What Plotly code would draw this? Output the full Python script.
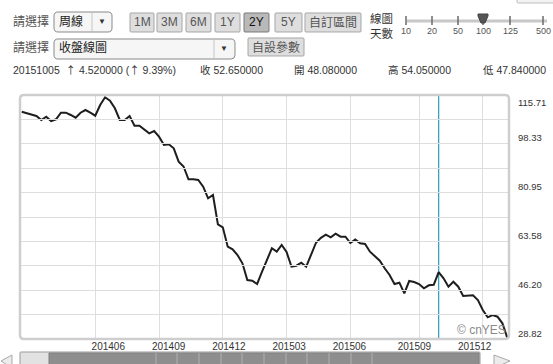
import plotly.graph_objects as go
import pandas as pd

# ---------------- data ----------------
first_week = "2014-02-17"
closes = [
    109.76, 109.19, 108.84, 108.23, 106.81, 107.98, 106.45, 107.05, 109.41, 109.41,
    108.59, 107.62, 109.41, 110.37, 109.41, 108.34, 112.15, 114.89, 113.68, 110.97,
    106.81, 106.81, 108.23, 104.78, 104.78, 103.49, 102.07, 102.89, 100.86, 97.90,
    98.15, 96.73, 91.96, 90.25, 85.69, 85.69, 85.44, 83.05, 78.92, 80.10,
    69.66, 68.60, 61.69, 60.76, 58.73, 55.78, 49.83, 49.58, 48.41, 52.79,
    56.95, 61.12, 59.91, 62.29, 59.80, 54.57, 54.92, 55.99, 54.57, 58.73,
    63.11, 64.86, 66.00, 65.04, 66.35, 65.25, 65.25, 63.01, 64.22, 62.90,
    62.65, 59.91, 58.38, 56.70, 54.00, 51.61, 48.41, 48.87, 45.09, 49.47,
    49.12, 48.41, 46.87, 47.94, 48.13, 52.65, 50.44, 47.44, 49.22, 47.44,
    44.13, 44.24, 44.38, 42.71, 39.15, 36.55, 37.37, 36.76, 34.41, 29.20,
]
dates = pd.date_range(first_week, periods=len(closes), freq="7D")

y_min, y_max = 28.82, 115.71
y_labels = ["28.82", "46.20", "63.58", "80.95", "98.33", "115.71"]
x_labels = ["201406", "201409", "201412", "201503", "201506", "201509", "201512"]
cursor_date = "2015-10-05"
q_date, q_close, q_open, q_high, q_low = "20151005", 52.65, 48.08, 54.05, 47.84
q_change, q_pct = 4.52, 9.39

period_buttons = ["1M", "3M", "6M", "1Y", "2Y", "5Y", "自訂區間"]
selected_period = "2Y"
slider_labels = ["10", "20", "50", "100", "125", "500"]
selected_slider = "100"

# ---------------- geometry helpers ----------------
W, H = 553, 364
L, R, T, B = 20, 509, 95, 339


def X(px):
    return (px - L) / (R - L)


def Y(py):
    return (B - py) / (B - T)


def P(px, py):
    return f"{X(px):.5f},{Y(py):.5f}"


def rrect(x0, y0, x1, y1, r):
    return ("M" + P(x0 + r, y0) + " L" + P(x1 - r, y0) + " Q" + P(x1, y0) + " " + P(x1, y0 + r)
            + " L" + P(x1, y1 - r) + " Q" + P(x1, y1) + " " + P(x1 - r, y1)
            + " L" + P(x0 + r, y1) + " Q" + P(x0, y1) + " " + P(x0, y1 - r)
            + " L" + P(x0, y0 + r) + " Q" + P(x0, y0) + " " + P(x0 + r, y0) + " Z")


FONT = "Liberation Sans, Noto Sans CJK TC, Arial, sans-serif"
CJK = "Noto Sans CJK TC"
UP = f"<span style=\"font-family:'{CJK}'\">↑</span>"

grid_dates = []
for lab in x_labels:
    yr, mo = int(lab[:4]), int(lab[4:])
    grid_dates.append([d for d in dates if d.year == yr and d.month == mo][0])

step = (y_max - y_min) / 10
y_grid = [y_min + i * step for i in range(11)]
pad = pd.Timedelta(days=2.4)
x_range = [dates[0] - pad, dates[-1] + pad]

fig = go.Figure()
fig.add_trace(go.Scatter(x=dates, y=closes, mode="lines",
                         line=dict(color="#1e1e1e", width=2),
                         hoverinfo="skip", showlegend=False))
# invisible trace carrying the label axis
fig.add_trace(go.Scatter(x=dates, y=closes, mode="lines", xaxis="x2",
                         line=dict(width=0), opacity=0,
                         hoverinfo="skip", showlegend=False))

shapes = []
annotations = []

# cursor line
shapes.append(dict(type="line", xref="x", yref="paper", x0=cursor_date, x1=cursor_date,
                   y0=0, y1=1, line=dict(color="#3aa3b8", width=1.3), layer="between"))
# frame
shapes.append(dict(type="path", xref="paper", yref="paper", path=rrect(L, T, R, B, 4),
                   line=dict(color="#cecece", width=2.5), layer="above"))

# y labels
for lab in y_labels:
    v = float(lab)
    annotations.append(dict(x=X(516), xref="paper", y=v, yref="y", text=lab, showarrow=False,
                            xanchor="left", yanchor="middle",
                            yshift=(-7 if v == y_max else 6),
                            font=dict(family=FONT, size=9.5, color="#333")))

# watermark
annotations.append(dict(x=X(508), y=Y(330), xref="paper", yref="paper", text="© cnYES",
                        showarrow=False, xanchor="right", yanchor="middle",
                        font=dict(family=FONT, size=12, color="#8a8a8a")))


def text(px, py, s, size=12, color="#333", anchor="left"):
    annotations.append(dict(x=X(px), y=Y(py), xref="paper", yref="paper", text=s,
                            showarrow=False, xanchor=anchor, yanchor="middle",
                            font=dict(family=FONT, size=size, color=color)))


def box(x0, y0, x1, y1, fill, line, r=2, lw=1):
    shapes.append(dict(type="path", xref="paper", yref="paper", path=rrect(x0, y0, x1, y1, r),
                       fillcolor=fill, line=dict(color=line, width=lw)))


def seg(x0, y0, x1, y1, color, w=1):
    shapes.append(dict(type="line", xref="paper", yref="paper",
                       x0=X(x0), y0=Y(y0), x1=X(x1), y1=Y(y1),
                       line=dict(color=color, width=w)))


# ---- header row 1 ----
text(11, 22, "請選擇", 12, "#555")
box(54, 12, 112, 32, "#f6f6f6", "#8a8a8a", 4)
text(57, 22, "周線", 12, "#222")
seg(92, 13, 92, 31, "#c4c4c4")
text(102, 22, "▼", 8, "#333", "center")

btn_x = [(130, 154), (157, 182), (186, 211), (215, 240), (244, 269), (275, 302), (305, 361)]
for lab, (a, b) in zip(period_buttons, btn_x):
    sel = lab == selected_period
    box(a, 13, b, 32, "#b9b9b9" if sel else "#dedede", "#7a7a7a" if sel else "#a6a6a6", 1)
    text((a + b) / 2, 22.5, lab, 12, "#111" if sel else "#555", "center")

text(368, 26.5, "線圖<br>天數", 11.5, "#333")
seg(407, 21, 547, 21, "#c8c8c8", 3)
slider_x = [406, 432, 458, 483, 510, 543]
for lab, sx in zip(slider_labels, slider_x):
    seg(sx, 16, sx, 25, "#6a6a6a", 1.5)
    text(sx, 31, lab, 9, "#555", "center")
    if lab == selected_slider:
        shapes.append(dict(type="path", xref="paper", yref="paper",
                           path="M" + P(sx - 5, 14) + " L" + P(sx + 5, 14) + " L" + P(sx + 5, 16)
                           + " L" + P(sx + 2, 23) + " L" + P(sx - 2, 23) + " L" + P(sx - 5, 16) + " Z",
                           fillcolor="#555", line=dict(color="#444", width=1)))
# partial element at top-right corner
box(517, -6, 558, 3, "#f2f2f2", "#bdbdbd", 1)

# ---- header row 2 ----
text(11, 47, "請選擇", 12, "#555")
box(54, 39, 235, 59, "#f6f6f6", "#8a8a8a", 4)
text(57, 48, "收盤線圖", 12, "#222")
seg(214, 40, 214, 58, "#c4c4c4")
text(224, 49, "▼", 8, "#333", "center")
box(248, 38, 304, 56, "#dedede", "#a6a6a6", 1)
text(276, 47, "自設參數", 12, "#555", "center")

# ---- header row 3 ----
text(11, 70, f"{q_date}  {UP} {q_change:.6f} ({UP} {q_pct:.2f}%)", 10.5, "#333")
text(198, 70, f"收 {q_close:.6f}", 10.5, "#333")
text(292, 70, f"開 {q_open:.6f}", 10.5, "#333")
text(386, 70, f"高 {q_high:.6f}", 10.5, "#333")
text(481, 70, f"低 {q_low:.6f}", 10.5, "#333")

# ---- bottom scrollbar ----
shapes.append(dict(type="path", xref="paper", yref="paper",
                   path="M" + P(1, 361) + " L" + P(12, 355) + " L" + P(12, 368) + " Z",
                   fillcolor="#ececec", line=dict(color="#a8a8a8", width=1)))
box(20, 352, 480, 368, "#e2e2e2", "#9a9a9a", 1)
box(49, 353, 479, 368, "#8e8e8e", "#808080", 0)
for vx in [156, 177, 199, 221, 242, 264, 286, 307, 329, 351, 372]:
    seg(vx, 353, vx, 368, "#b0b0b0", 1)
shapes.append(dict(type="path", xref="paper", yref="paper",
                   path="M" + P(494, 355) + " L" + P(510, 361) + " L" + P(494, 368) + " Z",
                   fillcolor="#ececec", line=dict(color="#a8a8a8", width=1)))

# label axis domain (labels spread slightly narrower than the grid)
lab_d0 = (37.1 - L) / (R - L)
lab_d1 = (499.5 - L) / (R - L)

fig.update_layout(
    width=W, height=H,
    margin=dict(l=L, r=W - R, t=T, b=H - B),
    paper_bgcolor="white", plot_bgcolor="rgba(0,0,0,0)",
    showlegend=False,
    xaxis=dict(range=x_range, type="date", tickvals=grid_dates, showticklabels=False,
               showgrid=True, gridcolor="#dedede", gridwidth=1, zeroline=False,
               showline=False, ticks="", fixedrange=True),
    xaxis2=dict(range=x_range, type="date", anchor="y", domain=[lab_d0, lab_d1],
                tickvals=grid_dates, ticktext=x_labels, showgrid=False, zeroline=False,
                showline=False, ticks="", tickfont=dict(family=FONT, size=10, color="#333"),
                fixedrange=True),
    yaxis=dict(range=[y_min, y_max], tickvals=y_grid, showticklabels=False,
               showgrid=True, gridcolor="#dedede", gridwidth=1, zeroline=False,
               showline=False, ticks="", fixedrange=True),
    shapes=shapes,
    annotations=annotations,
)

fig.write_html("out.html", config={"displayModeBar": False},
               post_script="document.body.style.margin='0';document.body.style.padding='0';")
